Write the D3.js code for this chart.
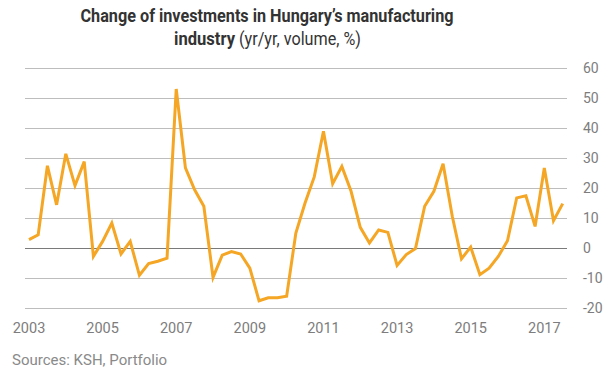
<!DOCTYPE html>
<html>
<head>
<meta charset="utf-8">
<script src="https://cdn.jsdelivr.net/npm/d3@7"></script>
<style>
  body { margin: 0; background: #fff; }
  svg { display: block; font-family: Roboto, "Noto Sans", sans-serif; }
</style>
</head>
<body>
<div id="container"></div>
<script>
// quarterly yr/yr change, 2003 Q1 .. 2017 Q3
const startYear = 2003;
const values = [
  2.8, 4.4, 27.4, 14.4, 31.4, 20.8, 28.8, -2.8,
  2.2, 8.3, -2.0, 2.2, -9.1, -5.2, -4.4, -3.4,
  53.0, 26.7, 19.4, 13.9, -9.8, -2.4, -1.2, -2.0,
  -6.7, -17.6, -16.6, -16.6, -16.1, 5.0, 15.0, 23.7,
  38.9, 21.4, 27.2, 18.9, 6.9, 1.7, 6.0, 5.2,
  -5.8, -2.2, -0.2, 13.9, 18.9, 28.1, 10.6, -3.6,
  0.3, -8.9, -6.7, -2.8, 2.4, 16.7, 17.4, 7.2,
  26.7, 9.1, 14.8
];
const xTicks = [2003, 2005, 2007, 2009, 2011, 2013, 2015, 2017];
const yTicks = [-20, -10, 0, 10, 20, 30, 40, 50, 60];
const titleLine1 = "Change of investments in Hungary\u2019s manufacturing";
const titleBold2 = "industry";
const titleRest2 = "(yr/yr, volume, %)";
const source = "Sources: KSH, Portfolio";

document.addEventListener("DOMContentLoaded", function () {
  const width = 605, height = 378;

  const svg = d3.select("#container").append("svg")
    .attr("width", width)
    .attr("height", height);

  const data = values.map((v, i) => ({ t: startYear + i / 4, v: v }));

  //------------------------------ scales ------------------------------//
  const x = d3.scaleLinear().domain([2003, 2017.5]).range([29, 562.7]);
  const y = d3.scaleLinear().domain([-20, 60]).range([308, 68]);
  const gridLeft = 25, gridRight = 567;

  //------------------------------ grid + y labels ------------------------------//
  svg.append("g").selectAll("line")
    .data(yTicks)
    .join("line")
    .attr("x1", gridLeft).attr("x2", gridRight)
    .attr("y1", d => y(d) + 0.5).attr("y2", d => y(d) + 0.5)
    .attr("stroke", d => d === 0 ? "#7a7a7a" : "#bdbdbd")
    .attr("stroke-width", 1);

  svg.append("g").selectAll("text")
    .data(yTicks)
    .join("text")
    .attr("x", 583)
    .attr("y", d => y(d) + 5)
    .attr("font-size", 14)
    .attr("fill", "#7d7d7d")
    .text(d => d);

  //------------------------------ x labels ------------------------------//
  svg.append("g").selectAll("text")
    .data(xTicks)
    .join("text")
    .attr("x", d => x(d))
    .attr("y", 333)
    .attr("text-anchor", "middle")
    .attr("font-size", 14.5)
    .attr("fill", "#7d7d7d")
    .text(d => d);

  //------------------------------ line ------------------------------//
  const line = d3.line()
    .x(d => x(d.t))
    .y(d => y(d.v));

  svg.append("path")
    .datum(data)
    .attr("d", line)
    .attr("fill", "none")
    .attr("stroke", "#f4a624")
    .attr("stroke-width", 3)
    .attr("stroke-linejoin", "miter");

  //------------------------------ title ------------------------------//
  svg.append("text")
    .attr("x", 267).attr("y", 22)
    .attr("text-anchor", "middle")
    .attr("font-size", 19)
    .attr("font-weight", "bold")
    .attr("fill", "#333")
    .attr("textLength", 373)
    .attr("lengthAdjust", "spacingAndGlyphs")
    .text(titleLine1);

  // second title line: bold word + regular unit note, kept as two texts
  svg.append("text")
    .attr("x", 174).attr("y", 45)
    .attr("font-size", 19)
    .attr("font-weight", "bold")
    .attr("fill", "#333")
    .attr("textLength", 61)
    .attr("lengthAdjust", "spacingAndGlyphs")
    .text(titleBold2);

  svg.append("text")
    .attr("x", 239).attr("y", 45)
    .attr("font-size", 19)
    .attr("fill", "#333")
    .attr("textLength", 122)
    .attr("lengthAdjust", "spacingAndGlyphs")
    .text(titleRest2);

  //------------------------------ source ------------------------------//
  svg.append("text")
    .attr("x", 12).attr("y", 365)
    .attr("font-size", 15)
    .attr("fill", "#8a8a8a")
    .text(source);
});
</script>
</body>
</html>
